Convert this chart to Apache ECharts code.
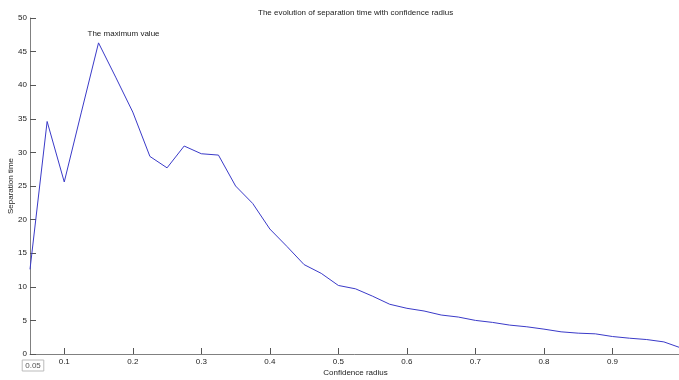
<!DOCTYPE html>
<html>
<head>
<meta charset="utf-8">
<script src="https://cdn.jsdelivr.net/npm/echarts@6/dist/echarts.min.js"></script>
<style>
html,body{margin:0;padding:0;background:#fff;}
#chart{width:679px;height:380px;}
</style>
</head>
<body>
<div id="chart"></div>
<script>
var chartTitle = 'The evolution of separation time with confidence radius';
var xName = 'Confidence radius';
var yName = 'Separation time';
var annotationText = 'The maximum value';

var xValues = [0.05, 0.075, 0.1, 0.125, 0.15, 0.175, 0.2, 0.225, 0.25, 0.275,
               0.3, 0.325, 0.35, 0.375, 0.4, 0.425, 0.45, 0.475, 0.5, 0.525,
               0.55, 0.575, 0.6, 0.625, 0.65, 0.675, 0.7, 0.725, 0.75, 0.775,
               0.8, 0.825, 0.85, 0.875, 0.9, 0.925, 0.95, 0.975, 1.0];
var yValues = [12.6, 34.6, 25.6, 36.0, 46.3, 41.2, 36.0, 29.4, 27.7, 30.95,
               29.8, 29.6, 25.0, 22.4, 18.6, 16.0, 13.3, 12.0, 10.2, 9.7,
               8.6, 7.4, 6.8, 6.4, 5.8, 5.5, 5.0, 4.7, 4.3, 4.05,
               3.7, 3.3, 3.1, 3.0, 2.6, 2.35, 2.15, 1.8, 0.9];
var xTickLabels = [0.05, 0.1, 0.2, 0.3, 0.4, 0.5, 0.6, 0.7, 0.8, 0.9];
var xTickMarks = [0.1, 0.2, 0.3, 0.4, 0.5, 0.6, 0.7, 0.8, 0.9];
var yMin = 0, yMax = 50, yStep = 5;
var xMin = 0.05, xMax = 1.0;

var seriesData = xValues.map(function (x, i) { return [x, yValues[i]]; });

var FONT = '"Liberation Sans", Arial, sans-serif';
var TXT = '#222';
var AXIS = '#808080';
var FS = 8;

var chart = echarts.init(document.getElementById('chart'), null, {renderer: 'canvas'});
chart.setOption({
  animation: false,
  backgroundColor: '#fff',
  title: {
    text: chartTitle,
    left: 253, top: 4,
    textStyle: {fontFamily: FONT, fontSize: FS, fontWeight: 'normal', color: TXT}
  },
  grid: {left: 30, top: 18, width: 651, height: 336, containLabel: false, outerBoundsMode: 'none'},
  xAxis: {
    type: 'value', min: xMin, max: xMax,
    name: xName, nameLocation: 'middle', nameGap: 15, nameMoveOverlap: false,
    nameTextStyle: {fontFamily: FONT, fontSize: FS, color: TXT},
    axisLine: {show: true, lineStyle: {color: AXIS, width: 1}},
    axisTick: {show: true, inside: true, length: 6, customValues: xTickMarks, lineStyle: {color: '#555'}},
    splitLine: {show: false},
    axisLabel: {
      customValues: xTickLabels, margin: 4,
      fontFamily: FONT, fontSize: FS, color: TXT,
      formatter: function (v) {
        if (Math.abs(v - 0.05) < 1e-9) return '{sp|}\n{pad|}{box|0.05}';
        return String(Math.round(v * 10) / 10);
      },
      rich: {
        sp: {lineHeight: 2, fontSize: 2},
        pad: {width: 6},
        box: {fontFamily: FONT, fontSize: FS, color: '#555', borderColor: '#bbb', borderWidth: 1, padding: [2, 3, 1, 3]}
      }
    }
  },
  yAxis: {
    type: 'value', min: yMin, max: yMax, interval: yStep,
    name: yName, nameLocation: 'middle', nameGap: 15, nameRotate: 90, nameMoveOverlap: false,
    nameTextStyle: {fontFamily: FONT, fontSize: FS, color: TXT},
    axisLine: {show: true, lineStyle: {color: AXIS, width: 1}},
    axisTick: {show: true, inside: true, length: 6, lineStyle: {color: '#555'}},
    splitLine: {show: false},
    axisLabel: {margin: 3, fontFamily: FONT, fontSize: FS, color: TXT}
  },
  series: [{
    type: 'line',
    data: seriesData,
    showSymbol: false,
    symbol: 'none',
    lineStyle: {color: '#3a3ac8', width: 1},
    itemStyle: {color: '#3a3ac8'},
    markPoint: {
      symbol: 'circle', symbolSize: 0,
      data: [{type: 'max'}],
      label: {
        show: true, position: 'inside', offset: [25, -9],
        formatter: annotationText,
        fontFamily: FONT, fontSize: FS, color: TXT
      }
    }
  }]
});
</script>
</body>
</html>
